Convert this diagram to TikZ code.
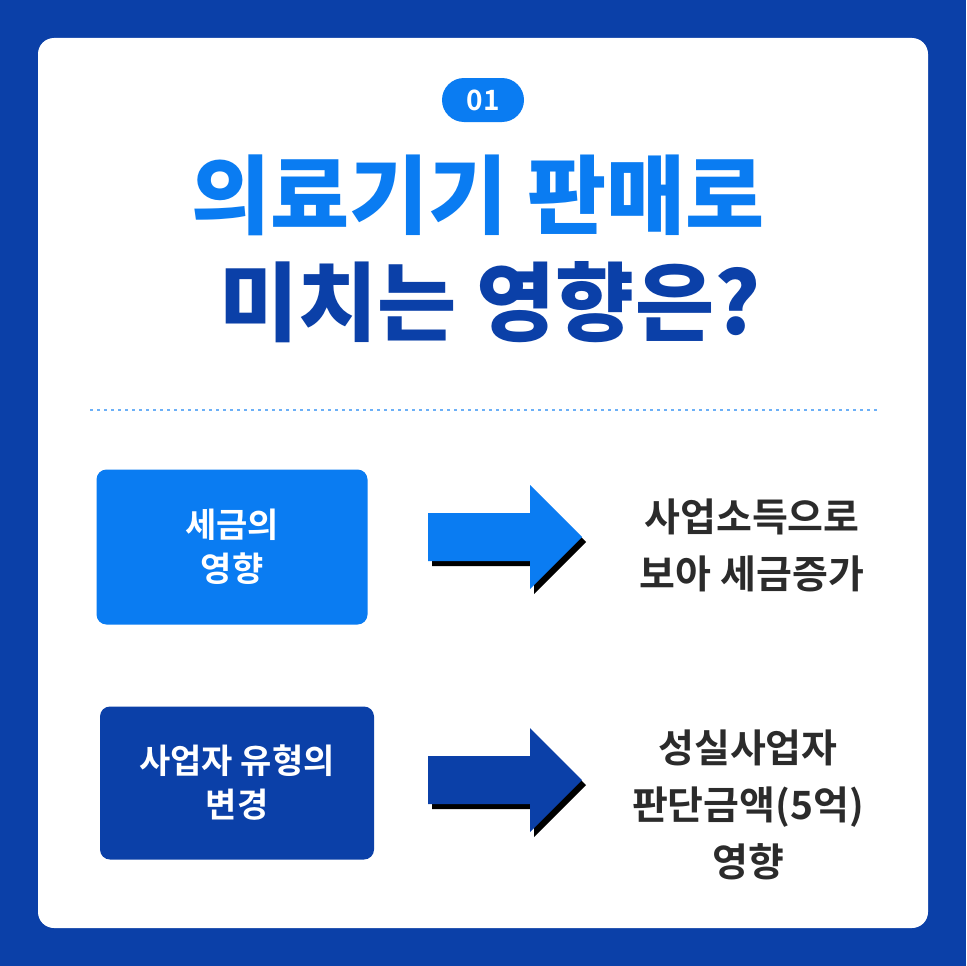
\documentclass[tikz,border=0pt]{standalone}
\usepackage{fontspec}
\newfontfamily\kr{Noto Sans CJK KR}[BoldFont={* Black}]
\newfontfamily\krb{Noto Sans CJK KR}[BoldFont={* Bold}]
\definecolor{navy}{HTML}{0B40A8}
\definecolor{sky}{HTML}{0A7CF2}
\definecolor{ink}{HTML}{2B2B2B}
\tikzset{
  panel/.style={rounded corners=10pt, text=white, align=center, font=\krb\bfseries\fontsize{34}{44}\selectfont},
  result/.style={text=ink, align=center, font=\krb\bfseries\fontsize{39}{57}\selectfont}
}
% block arrow with its left end at #1
\newcommand{\blockarr}[2]{%
  \fill[black] ([shift={(4,5)}]#1) ++(0,-24) -- ++(102,0) -- ++(0,-28) -- ++(52,52) -- ++(-52,52) -- ++(0,-28) -- ++(-102,0) -- cycle;
  \fill[#2] (#1) ++(0,-24) -- ++(102,0) -- ++(0,-28) -- ++(52,52) -- ++(-52,52) -- ++(0,-28) -- ++(-102,0) -- cycle;}
\begin{document}
\begin{tikzpicture}[x=1pt,y=-1pt]
  \useasboundingbox (0,0) rectangle (966,966);
  \fill[navy] (0,0) rectangle (966,966);
  \fill[white, rounded corners=16pt] (38,38) rectangle (928,928);
  % heading
  \node (num) [fill=sky, rounded corners=22pt, minimum width=82pt, minimum height=44pt, text=white, font=\krb\bfseries\fontsize{28}{30}\selectfont] at (483,100) {01};
  \node (title1) [text=sky, font=\kr\bfseries\fontsize{86}{90}\selectfont] at (478,195) {의료기기 판매로};
  \node (title2) [text=navy, font=\kr\bfseries\fontsize{86}{90}\selectfont] at (490,302) {미치는 영향은?};
  \draw[sky!60, line width=2.5pt, dash pattern=on 2.5pt off 4.5pt] (90,410) -- (880,410);
  % first row
  \node (tax) [panel, fill=sky, minimum width=271pt, minimum height=155pt] at (232,547) {세금의\\영향};
  \coordinate (arr1) at (428,537);
  \blockarr{arr1}{sky}
  \node (res1) [result] at (752,545) {사업소득으로\\보아 세금증가};
  % second row
  \node (type) [panel, fill=navy, minimum width=274pt, minimum height=153pt] at (237,783) {사업자 유형의\\변경};
  \coordinate (arr2) at (428,780);
  \blockarr{arr2}{navy}
  \node (res2) [result] at (748,805) {성실사업자\\판단금액(5억)\\영향};
\end{tikzpicture}
\end{document}
